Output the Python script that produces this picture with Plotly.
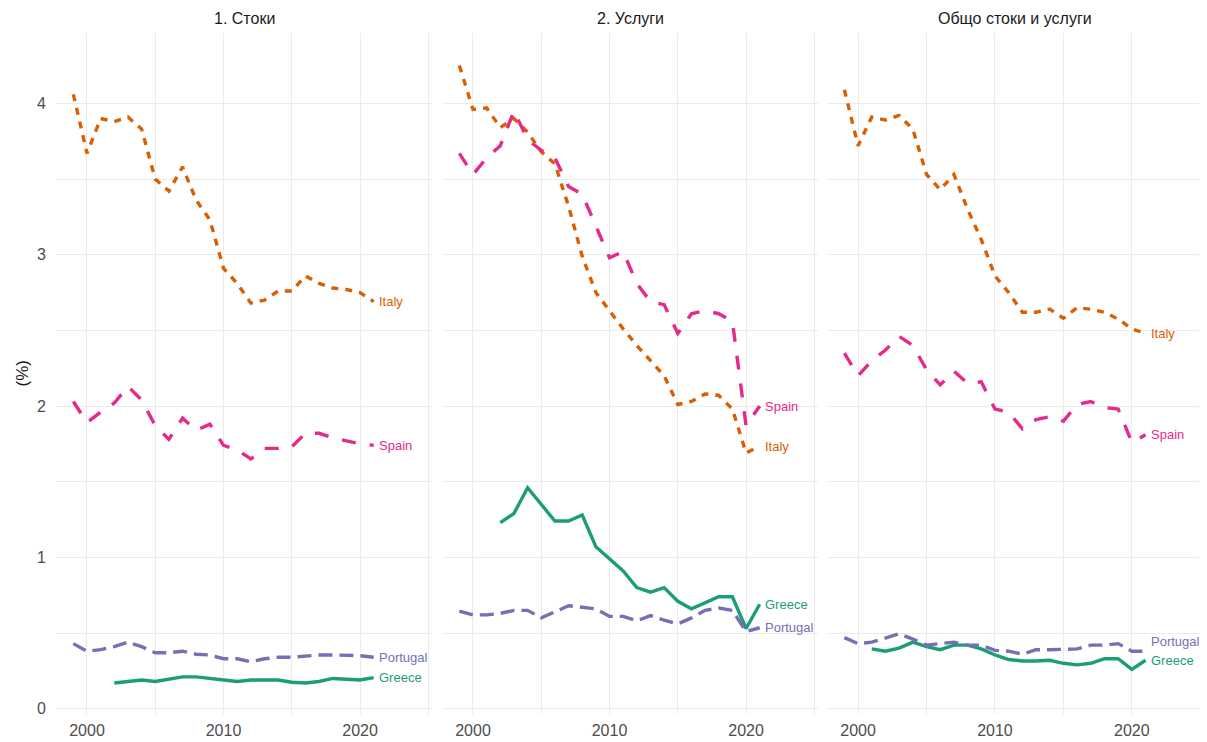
import plotly.graph_objects as go

YEARS = list(range(1999, 2022))
PANELS = ['1. Стоки', '2. Услуги', 'Общо стоки и услуги']
COUNTRIES = ['Greece', 'Italy', 'Portugal', 'Spain']

# 1. goods
GOODS_GREECE = [None, None, None, 0.17, 0.18, 0.19, 0.18, 0.195, 0.21, 0.21, 0.20, 0.185,
	0.18, 0.19, 0.19, 0.19, 0.175, 0.17, 0.18, 0.20, 0.195, 0.19, 0.205]
GOODS_ITALY = [4.06, 3.67, 3.90, 3.88, 3.91, 3.83, 3.50, 3.42, 3.58, 3.36, 3.23, 2.91,
	2.81, 2.68, 2.70, 2.76, 2.76, 2.86, 2.81, 2.78, 2.77, 2.75, 2.69]
GOODS_PORTUGAL = [0.43, 0.38, 0.39, 0.41, 0.44, 0.41, 0.37, 0.37, 0.38, 0.36, 0.355, 0.33,
	0.33, 0.31, 0.33, 0.34, 0.34, 0.35, 0.355, 0.355, 0.355, 0.35, 0.34]
GOODS_SPAIN = [2.03, 1.89, 1.96, 2.02, 2.13, 2.04, 1.87, 1.78, 1.92, 1.84, 1.88, 1.74,
	1.71, 1.65, 1.72, 1.72, 1.73, 1.82, 1.82, 1.79, 1.77, 1.75, 1.74]

# 2. services
SERV_GREECE = [None, None, None, 1.23, 1.29, 1.46, 1.35, 1.24, 1.24, 1.28, 1.07, 0.99,
	0.91, 0.80, 0.77, 0.80, 0.71, 0.66, 0.70, 0.74, 0.74, 0.53, 0.69]
SERV_ITALY = [4.25, 3.96, 3.97, 3.84, 3.90, 3.81, 3.68, 3.60, 3.32, 2.99, 2.75, 2.63,
	2.51, 2.40, 2.30, 2.20, 2.01, 2.03, 2.08, 2.07, 1.98, 1.69, 1.735]
SERV_PORTUGAL = [0.645, 0.62, 0.62, 0.63, 0.65, 0.65, 0.60, 0.64, 0.68, 0.67, 0.66, 0.61,
	0.61, 0.58, 0.615, 0.585, 0.56, 0.60, 0.65, 0.665, 0.65, 0.51, 0.535]
SERV_SPAIN = [3.67, 3.53, 3.64, 3.72, 3.95, 3.76, 3.69, 3.64, 3.45, 3.40, 3.19, 2.98,
	3.02, 2.81, 2.69, 2.67, 2.48, 2.61, 2.63, 2.61, 2.56, 1.87, 2.00]

# total goods and services
TOTAL_GREECE = [None, None, 0.395, 0.38, 0.40, 0.44, 0.41, 0.39, 0.42, 0.42, 0.395, 0.355,
	0.325, 0.315, 0.315, 0.32, 0.30, 0.29, 0.30, 0.33, 0.33, 0.26, 0.32]
TOTAL_ITALY = [4.09, 3.72, 3.91, 3.89, 3.92, 3.83, 3.53, 3.43, 3.53, 3.30, 3.10, 2.86,
	2.75, 2.62, 2.62, 2.64, 2.58, 2.65, 2.64, 2.62, 2.575, 2.51, 2.48]
TOTAL_PORTUGAL = [0.47, 0.43, 0.44, 0.47, 0.495, 0.46, 0.42, 0.43, 0.44, 0.42, 0.42, 0.385,
	0.38, 0.36, 0.39, 0.39, 0.39, 0.395, 0.42, 0.42, 0.43, 0.38, 0.38]
TOTAL_SPAIN = [2.35, 2.20, 2.30, 2.37, 2.46, 2.40, 2.24, 2.14, 2.23, 2.15, 2.16, 1.98,
	1.96, 1.85, 1.91, 1.93, 1.90, 2.01, 2.03, 1.99, 1.98, 1.76, 1.81]

PANEL_DATA = [
	[GOODS_GREECE, GOODS_ITALY, GOODS_PORTUGAL, GOODS_SPAIN],
	[SERV_GREECE, SERV_ITALY, SERV_PORTUGAL, SERV_SPAIN],
	[TOTAL_GREECE, TOTAL_ITALY, TOTAL_PORTUGAL, TOTAL_SPAIN],
]

# Dark2 colours and ggplot-like linetypes
COLORS = {'Greece': '#1B9E77', 'Italy': '#D95F02', 'Portugal': '#7570B3', 'Spain': '#E7298A'}
DASHES = {'Greece': 'solid', 'Italy': '7px,7px', 'Portugal': '14px,7px', 'Spain': '14px,14px'}

# small nudges for labels that were pushed apart (pixels)
LABEL_SHIFT = {(2, 'Portugal'): 10}

# the page body has an 8px margin, so the figure is 8px smaller than the window
W, H = 1199, 734
X_DOMAINS = [(48 / W, 424 / W), (434 / W, 810 / W), (819 / W, 1196 / W)]
GRID = '#EBEBEB'
FONT = 'Liberation Sans, Arial, sans-serif'


def build_figure():
	fig = go.Figure()
	annotations = []
	for p, series in enumerate(PANEL_DATA):
		suffix = '' if p == 0 else str(p + 1)
		for name, vals in zip(COUNTRIES, series):
			fig.add_trace(go.Scatter(
				x=YEARS, y=vals, mode='lines', name=name, showlegend=False,
				line=dict(color=COLORS[name], width=3.4, dash=DASHES[name]),
				xaxis='x' + suffix, yaxis='y' + suffix,
			))
			# end-of-line label
			annotations.append(dict(
				x=YEARS[-1], y=vals[-1], xref='x' + suffix, yref='y' + suffix,
				text=name, showarrow=False, xanchor='left', yanchor='middle',
				xshift=3, yshift=LABEL_SHIFT.get((p, name), 0),
				font=dict(family=FONT, size=13, color=COLORS[name]),
			))
		# strip title
		d0, d1 = X_DOMAINS[p]
		annotations.append(dict(
			x=(d0 + d1) / 2, y=1, xref='paper', yref='paper',
			xanchor='center', yanchor='middle',
			yshift=15, text=PANELS[p], showarrow=False,
			font=dict(family=FONT, size=16, color='#1A1A1A'),
		))

	annotations.append(dict(
		x=14 / W, y=0.5, xref='paper', yref='paper', text='(%)', textangle=-90,
		xanchor='center', yanchor='middle',
		showarrow=False, font=dict(family=FONT, size=17, color='#1A1A1A'),
	))

	layout = dict(
		width=W, height=H,
		margin=dict(l=0, r=0, t=25, b=28),
		paper_bgcolor='white', plot_bgcolor='white',
		annotations=annotations,
		font=dict(family=FONT),
	)
	for p in range(3):
		suffix = '' if p == 0 else str(p + 1)
		layout['xaxis' + suffix] = dict(
			domain=list(X_DOMAINS[p]), range=[1997.73, 2025.27], anchor='y' + suffix,
			tick0=2000, dtick=10, showgrid=True, gridcolor=GRID, gridwidth=1.1,
			minor=dict(tick0=2000, dtick=5, showgrid=True, gridcolor=GRID, gridwidth=0.6),
			zeroline=False, showline=False, ticks='', automargin=False,
			ticklabelstandoff=5,
			tickfont=dict(family=FONT, size=16, color='#4D4D4D'),
		)
		layout['yaxis' + suffix] = dict(
			domain=[0, 1], range=[-0.035, 4.465], anchor='x' + suffix,
			tick0=0, dtick=1, showgrid=True, gridcolor=GRID, gridwidth=1.1,
			minor=dict(tick0=0, dtick=0.5, showgrid=True, gridcolor=GRID, gridwidth=0.6),
			zeroline=False, showline=False, ticks='', automargin=False,
			showticklabels=(p == 0), ticklabelstandoff=9,
			tickfont=dict(family=FONT, size=16, color='#4D4D4D'),
		)
		if p > 0:
			layout['yaxis' + suffix]['matches'] = 'y'
	fig.update_layout(**layout)
	return fig


def main():
	fig = build_figure()
	fig.write_html("out.html")


if __name__ == "__main__":
	main()
